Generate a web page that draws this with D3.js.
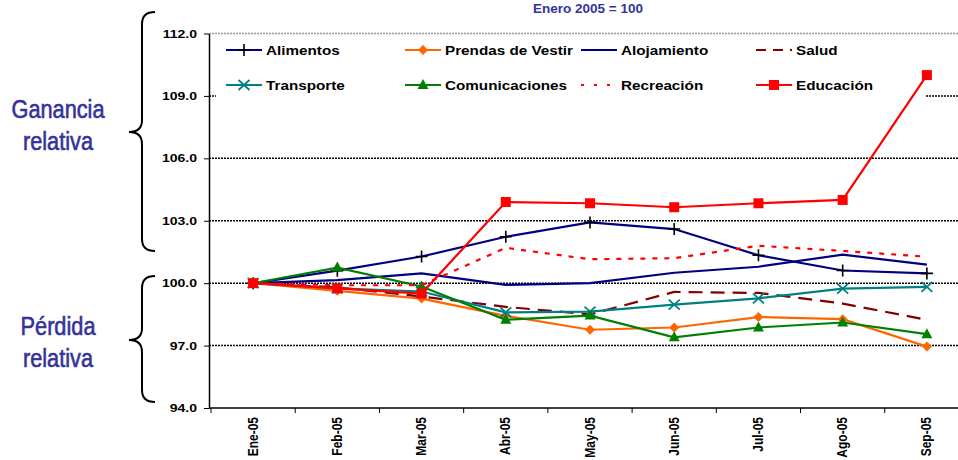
<!DOCTYPE html>
<html>
<head>
<meta charset="utf-8">
<script src="https://cdn.jsdelivr.net/npm/d3@7"></script>
<style>
  body { margin: 0; background: #fff; }
  svg { display: block; font-family: "Liberation Sans", Arial, sans-serif; }
</style>
</head>
<body>
<div class="chart"></div>
<script>
var months = ['Ene-05', 'Feb-05', 'Mar-05', 'Abr-05', 'May-05', 'Jun-05', 'Jul-05', 'Ago-05', 'Sep-05'];
var yTicks = [94, 97, 100, 103, 106, 109, 112];

var alimentos      = [100, 100.6, 101.28, 102.23, 102.92, 102.6, 101.34, 100.61, 100.47];
var prendas        = [100, 99.63, 99.26, 98.43, 97.76, 97.87, 98.37, 98.27, 96.95];
var alojamiento    = [100, 100.15, 100.47, 99.92, 100.0, 100.5, 100.79, 101.37, 100.89];
var salud          = [100, 99.8, 99.36, 98.86, 98.5, 99.58, 99.53, 99.02, 98.24];
var transporte     = [100, 99.75, 99.6, 98.6, 98.63, 98.97, 99.27, 99.74, 99.82];
var comunicaciones = [100, 100.75, 99.84, 98.24, 98.44, 97.4, 97.87, 98.11, 97.55];
var recreacion     = [100, 99.9, 99.9, 101.7, 101.15, 101.2, 101.8, 101.55, 101.27];
var educacion      = [100, 99.75, 99.5, 103.9, 103.84, 103.65, 103.84, 104.0, 110.0];

var series = [
  { name: 'Alimentos', values: alimentos, color: '#000080', dash: null, marker: 'plus', markerColor: '#000' },
  { name: 'Prendas de Vestir', values: prendas, color: '#FF6600', dash: null, marker: 'diamond', markerColor: '#FF6600' },
  { name: 'Alojamiento', values: alojamiento, color: '#000080', dash: null, marker: null },
  { name: 'Salud', values: salud, color: '#800000', dash: '14,8', legendDash: '10,7', marker: null },
  { name: 'Transporte', values: transporte, color: '#008080', dash: null, marker: 'cross', markerColor: '#008080' },
  { name: 'Comunicaciones', values: comunicaciones, color: '#008000', dash: null, marker: 'triangle', markerColor: '#008000' },
  { name: 'Recreación', values: recreacion, color: '#FF0000', dash: '5,7', legendDash: '3,10', marker: null },
  { name: 'Educación', values: educacion, color: '#FF0000', dash: null, marker: 'square', markerColor: '#FF0000' }
];

var W = 958, H = 460;
var plot = { left: 209, top: 33.5, bottom: 408, right: 958 };
// the chart picture is stretched sideways, so its texts are too
var stretch = 1.22;

var svg = d3.select('.chart')
  .append('svg')
  .attr('width', W)
  .attr('height', H);

var xScale = d3.scaleBand()
  .domain(months)
  .range([211, 969])
  .padding(0);

var yScale = d3.scaleLinear()
  .domain([94, 112])
  .range([plot.bottom, plot.top]);

var xc = m => xScale(m) + xScale.bandwidth() / 2;

function wideText(parent, x, y, txt, size, anchor) {
  return parent.append('text')
    .attr('transform', `translate(${x},${y}) scale(${stretch},1)`)
    .attr('text-anchor', anchor || 'start')
    .style('font-size', size + 'px')
    .style('font-weight', 'bold')
    .text(txt);
}

// title
svg.append('text')
  .attr('x', 588)
  .attr('y', 13)
  .attr('text-anchor', 'middle')
  .style('font-size', '13.5px')
  .style('font-weight', 'bold')
  .style('fill', '#333399')
  .text('Enero 2005 = 100');

// grid lines
svg.selectAll('.grid')
  .data(yTicks.filter(d => d > 94))
  .enter()
  .append('line')
  .attr('class', 'grid')
  .attr('x1', plot.left)
  .attr('x2', plot.right)
  .attr('y1', d => yScale(d))
  .attr('y2', d => yScale(d))
  .style('stroke', d => d === 112 ? '#999' : '#000')
  .style('stroke-width', 1.5)
  .style('stroke-dasharray', '2,1');

// y axis
svg.append('g')
  .attr('transform', `translate(${plot.left},0)`)
  .call(d3.axisLeft(yScale).tickValues(yTicks).tickFormat('').tickSize(5).tickSizeOuter(0))
  .call(g => g.select('.domain').style('stroke-width', 1.5));

yTicks.forEach(t => {
  wideText(svg, 197, yScale(t) + 4, d3.format('.1f')(t), 11.5, 'end');
});

// x axis
var xAxis = svg.append('g')
  .attr('transform', `translate(0,${plot.bottom})`);

xAxis.append('line')
  .attr('x1', plot.left)
  .attr('x2', plot.right)
  .style('stroke', '#000')
  .style('stroke-width', 1.5);

xAxis.selectAll('.xtick')
  .data(months)
  .enter()
  .append('line')
  .attr('class', 'xtick')
  .attr('x1', d => xScale(d))
  .attr('x2', d => xScale(d))
  .attr('y1', 0)
  .attr('y2', 5)
  .style('stroke', '#000');

xAxis.selectAll('.xlabel')
  .data(months)
  .enter()
  .append('text')
  .attr('class', 'xlabel')
  .attr('transform', d => `translate(${xc(d) + 4.5},9) rotate(-90) scale(1,${stretch})`)
  .attr('text-anchor', 'end')
  .style('font-size', '12px')
  .style('font-weight', 'bold')
  .text(d => d);

// brackets and side labels
function bracket(top, tip, bottom) {
  var xe = 155, xv = 142, xt = 129, r = 12;
  return `M${xe},${top} Q${xv},${top} ${xv},${top + r} L${xv},${tip - r} Q${xv},${tip} ${xt},${tip}` +
    ` Q${xv},${tip} ${xv},${tip + r} L${xv},${bottom - r} Q${xv},${bottom} ${xe},${bottom}`;
}

svg.append('path')
  .attr('d', bracket(12, 132, 251))
  .style('fill', 'none').style('stroke', '#000').style('stroke-width', 2);
svg.append('path')
  .attr('d', bracket(276, 340, 402))
  .style('fill', 'none').style('stroke', '#000').style('stroke-width', 2);

function sideLabel(lines, y) {
  lines.forEach((l, i) => {
    svg.append('text')
      .attr('transform', `translate(58,${y + i * 32}) scale(0.87,1)`)
      .attr('text-anchor', 'middle')
      .style('font-size', '25px')
      .style('fill', '#333399')
      .style('stroke', '#333399')
      .style('stroke-width', 0.6)
      .text(l);
  });
}
sideLabel(['Ganancia', 'relativa'], 118);
sideLabel(['Pérdida', 'relativa'], 335);

// lines
svg.append('clipPath').attr('id', 'plotclip')
  .append('rect').attr('x', plot.left).attr('y', 0).attr('width', plot.right - plot.left).attr('height', plot.bottom);

var line = d3.line()
  .x((d, i) => xc(months[i]))
  .y(d => yScale(d));

// legend background covers the grid
svg.append('rect')
  .attr('x', 216).attr('y', 35).attr('width', 709).attr('height', 66)
  .style('fill', '#fff');

var lines = svg.append('g').attr('clip-path', 'url(#plotclip)');

function drawMarker(g, type, color, x, y) {
  if (type === 'plus') {
    g.append('path').attr('d', `M${x - 6},${y} H${x + 6} M${x},${y - 6} V${y + 6}`)
      .style('stroke', color).style('stroke-width', 1.6).style('fill', 'none');
  } else if (type === 'cross') {
    g.append('path').attr('d', `M${x - 5.5},${y - 5} L${x + 5.5},${y + 5} M${x - 5.5},${y + 5} L${x + 5.5},${y - 5}`)
      .style('stroke', color).style('stroke-width', 1.8).style('fill', 'none');
  } else if (type === 'diamond') {
    g.append('path').attr('d', `M${x},${y - 5} L${x + 5},${y} L${x},${y + 5} L${x - 5},${y} Z`)
      .style('fill', color);
  } else if (type === 'triangle') {
    g.append('path').attr('d', `M${x},${y - 6} L${x + 5.5},${y + 4} L${x - 5.5},${y + 4} Z`)
      .style('fill', color);
  } else if (type === 'square') {
    g.append('rect').attr('x', x - 5).attr('y', y - 5).attr('width', 10).attr('height', 10)
      .style('fill', color);
  }
}

series.forEach(s => {
  var g = lines.append('g');
  g.append('path')
    .attr('d', line(s.values))
    .style('fill', 'none')
    .style('stroke', s.color)
    .style('stroke-width', 2.2)
    .style('stroke-dasharray', s.dash);
  if (s.marker) {
    s.values.forEach((v, i) => drawMarker(g, s.marker, s.markerColor, xc(months[i]), yScale(v)));
  }
});

// legend
var legCols = [226, 405, 581, 756];
var legRows = [50, 85];
var legend = svg.append('g');
series.forEach((s, i) => {
  var x = legCols[i % 4], y = legRows[Math.floor(i / 4)];
  var g = legend.append('g');
  g.append('line')
    .attr('x1', x).attr('x2', x + 36).attr('y1', y).attr('y2', y)
    .style('stroke', s.color)
    .style('stroke-width', 2.2)
    .style('stroke-dasharray', s.legendDash || null);
  if (s.marker) drawMarker(g, s.marker, s.markerColor, x + 18, y);
  wideText(g, x + 40, y + 4.5, s.name, 12.5);
});
</script>
</body>
</html>
